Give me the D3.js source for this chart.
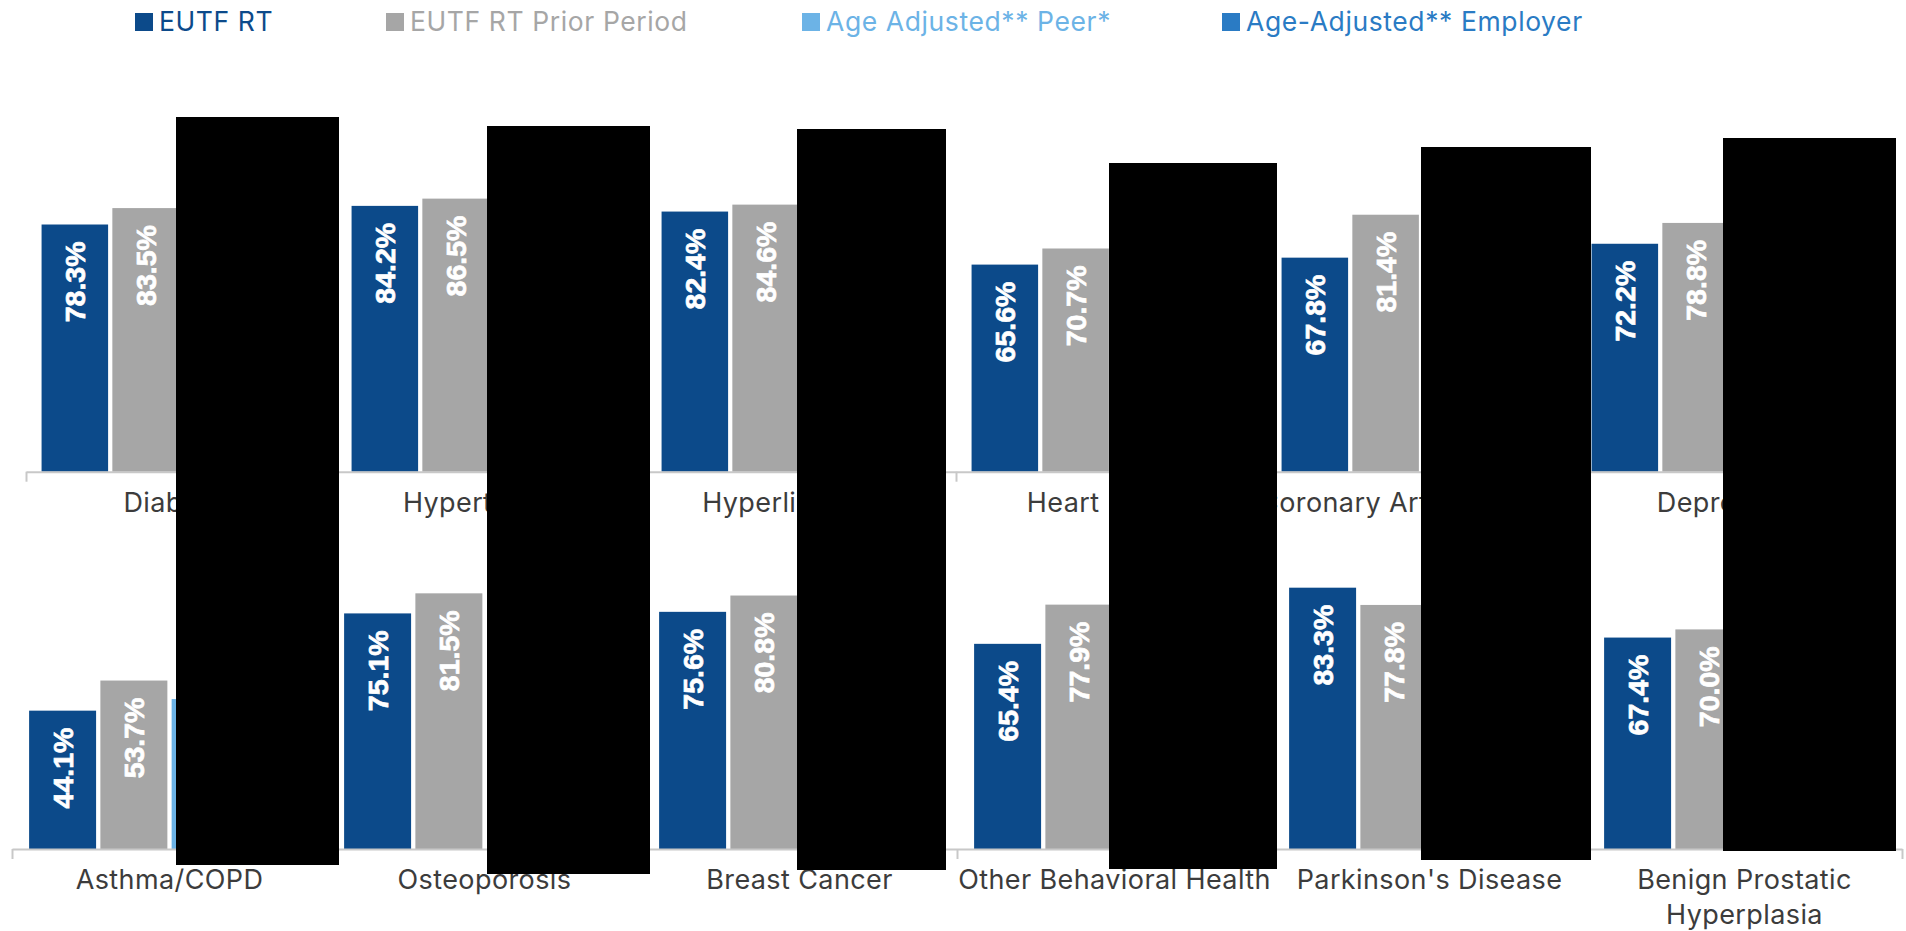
<!DOCTYPE html>
<html><head><meta charset="utf-8">
<script src="https://cdn.jsdelivr.net/npm/d3@7"></script>
<style>html,body{margin:0;padding:0;background:#fff;overflow:hidden}</style>
</head><body><svg id="c" width="1906" height="931"></svg>
<script>
// ---------- data ----------
const seriesNames = ["EUTF RT", "EUTF RT Prior Period", "Age Adjusted** Peer*", "Age-Adjusted** Employer"];
const topCategories = ["Diabetes", "Hypertension", "Hyperlipidemia", "Heart Failure", "Coronary Artery Disease", "Depression"];
const topEutf = [78.3, 84.2, 82.4, 65.6, 67.8, 72.2];
const topPrior = [83.5, 86.5, 84.6, 70.7, 81.4, 78.8];
const topPeer = [null, null, null, null, null, null];      // hidden in reference
const topEmployer = [null, null, null, null, null, null];  // hidden in reference
const bottomCategories = ["Asthma/COPD", "Osteoporosis", "Breast Cancer", "Other Behavioral Health", "Parkinson's Disease", "Benign Prostatic Hyperplasia"];
const bottomEutf = [44.1, 75.1, 75.6, 65.4, 83.3, 67.4];
const bottomPrior = [53.7, 81.5, 80.8, 77.9, 77.8, 70.0];
const bottomPeer = [47.8, null, null, null, null, null];
const bottomEmployer = [null, null, null, null, null, null];

// ---------- styles / layout ----------
const seriesColors = ["#0c4a8a", "#a6a6a6", "#6cb3e6", "#2a7bc4"];
const legendTextColors = ["#0c4a8a", "#a6a6a6", "#6cb3e6", "#2a7bc4"];
const legendX = [135, 386, 802, 1222];
const labelFont = "Inter, 'Liberation Sans', Arial, sans-serif";
const valueFont = "'Liberation Sans', Arial, sans-serif";
// opaque redaction blocks present in the reference image [x0, y0, x1, y1]
const redactions = [
  [176, 117, 339, 865], [487, 126, 650, 874], [797, 129, 946, 870],
  [1109, 163, 1277, 869], [1421, 147, 1591, 860], [1723, 138, 1896, 851]
];

const svg = d3.select("#c");

const rows = [
  { cats: topCategories, vals: [topEutf, topPrior, topPeer, topEmployer],
    xr: [26, 1886], base: 471.7, h100: 315.7, outer: 0.22 },
  { cats: bottomCategories, vals: [bottomEutf, bottomPrior, bottomPeer, bottomEmployer],
    xr: [12, 1902], base: 849, h100: 313.7, outer: 0.24 }
];

rows.forEach(row => {
  const g = svg.append("g");
  const x0 = d3.scaleBand().domain(row.cats).range(row.xr).padding(0);
  const x1 = d3.scaleBand().domain(seriesNames).range([0, x0.bandwidth()])
    .paddingInner(0.06).paddingOuter(row.outer);
  const y = d3.scaleLinear().domain([0, 100]).range([row.base, row.base - row.h100]);

  const data = [];
  row.cats.forEach((c, i) => seriesNames.forEach((s, k) => {
    const v = row.vals[k][i];
    if (v != null) data.push({ c, s, k, v });
  }));

  g.selectAll("rect.bar").data(data).join("rect")
    .attr("class", "bar")
    .attr("x", d => x0(d.c) + x1(d.s))
    .attr("width", x1.bandwidth())
    .attr("y", d => y(d.v))
    .attr("height", d => y(0) - y(d.v))
    .attr("fill", d => seriesColors[d.k]);

  g.selectAll("text.val").data(data.filter(d => d.k < 2)).join("text")
    .attr("class", "val")
    .attr("transform", d => `translate(${x0(d.c) + x1(d.s) + x1.bandwidth() / 2 + 10},${y(d.v) + 17}) rotate(-90)`)
    .attr("text-anchor", "end")
    .attr("fill", "#fff")
    .attr("stroke", "#fff")
    .attr("stroke-width", 0.7)
    .attr("font-family", valueFont)
    .attr("font-weight", "bold")
    .attr("font-size", 28.5)
    .text(d => d.v.toFixed(1) + "%");

  // axis line with boundary ticks
  const xb = d3.scaleLinear().domain([0, row.cats.length]).range(row.xr);
  const ax = g.append("g").attr("transform", `translate(0,${row.base})`)
    .call(d3.axisBottom(xb).ticks(row.cats.length).tickSize(10).tickSizeOuter(0).tickFormat(""));
  ax.selectAll("path,line").attr("stroke", "#c8c8c8").attr("stroke-width", 2);

  // category labels
  const lab = g.append("g").attr("transform", `translate(0,${row.base})`)
    .call(d3.axisBottom(x0).tickSize(0).tickPadding(0));
  lab.select(".domain").remove();
  lab.selectAll(".tick text")
    .attr("font-family", labelFont).attr("font-size", 27).attr("letter-spacing", 0.4)
    .attr("fill", "#3c3c3c")
    .attr("dy", null).attr("y", 40)
    .each(function (d) {
      const t = d3.select(this);
      const words = d.split(" ");
      const w = this.getComputedTextLength();
      if (w > 340) {
        t.text(null);
        let line = [], lines = [];
        const tmp = t.append("tspan");
        words.forEach(wd => {
          line.push(wd);
          tmp.text(line.join(" "));
          if (tmp.node().getComputedTextLength() > 300 && line.length > 1) {
            line.pop(); lines.push(line.join(" ")); line = [wd];
          }
        });
        lines.push(line.join(" "));
        tmp.remove();
        lines.forEach((l, i) => t.append("tspan").attr("x", 0).attr("y", 40 + i * 35).text(l));
      }
    });
});

// legend
const leg = svg.append("g");
seriesNames.forEach((s, k) => {
  leg.append("rect").attr("x", legendX[k]).attr("y", 13).attr("width", 18).attr("height", 18)
    .attr("fill", seriesColors[k]);
  leg.append("text").attr("x", legendX[k] + 24).attr("y", 31)
    .attr("font-family", labelFont).attr("font-size", 26.5).attr("letter-spacing", 0.6)
    .attr("fill", legendTextColors[k]).text(s);
});

// redaction overlay
svg.append("g").selectAll("rect").data(redactions).join("rect")
  .attr("x", d => d[0]).attr("y", d => d[1])
  .attr("width", d => d[2] - d[0]).attr("height", d => d[3] - d[1])
  .attr("fill", "#000");
</script>
</body></html>
